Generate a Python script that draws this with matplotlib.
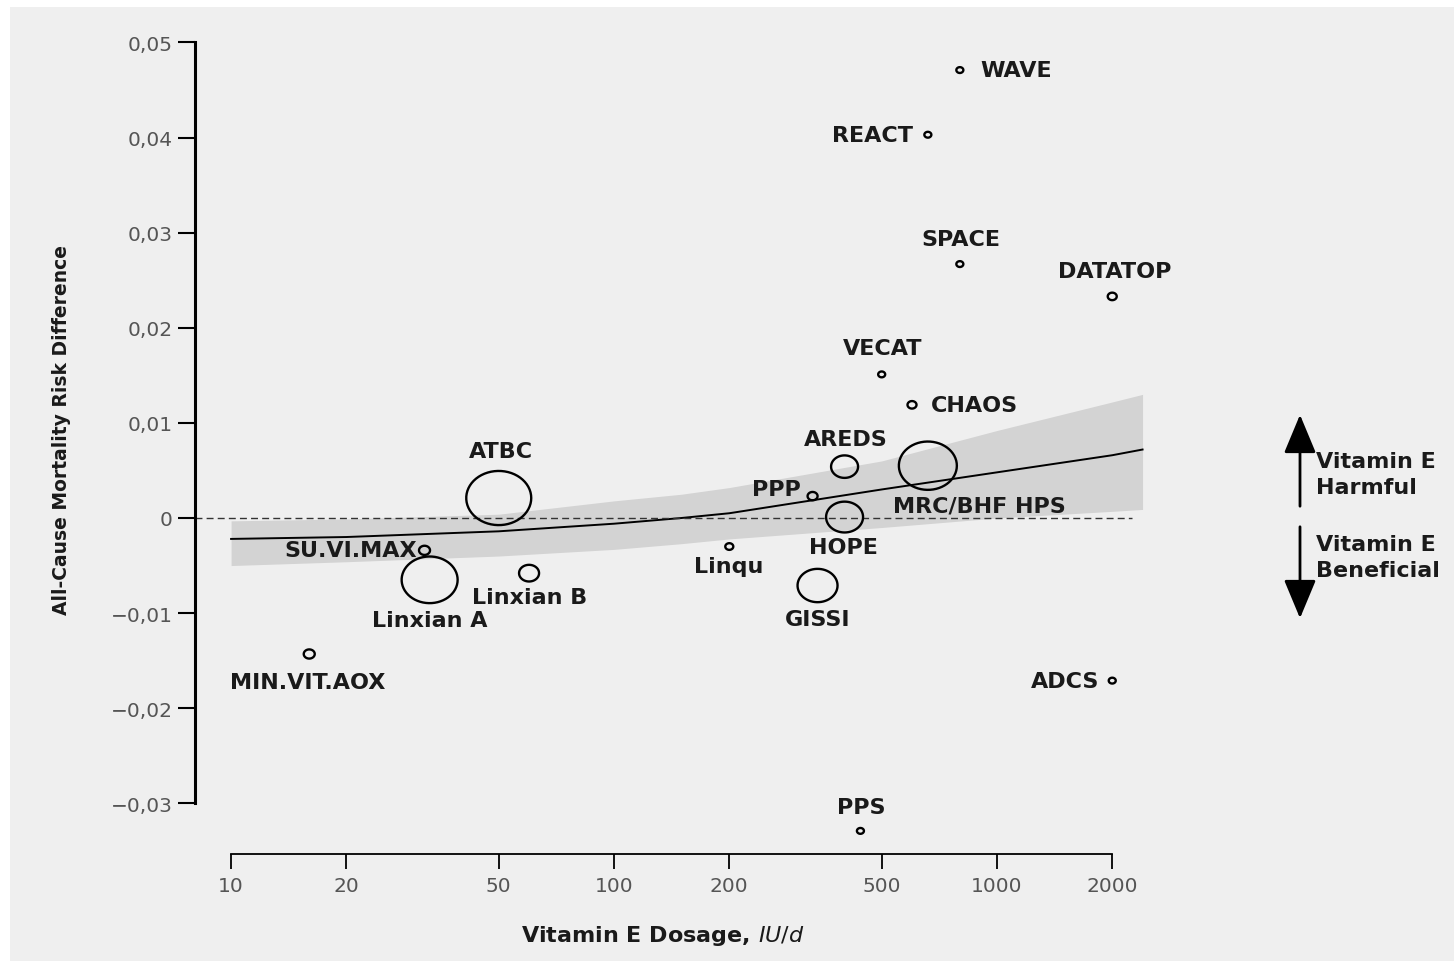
import matplotlib
matplotlib.use("Agg")
import matplotlib.pyplot as plt
from matplotlib.patches import Rectangle, FancyArrowPatch
from matplotlib.path import Path
import numpy as np

plt.rcParams['font.family'] = ['DejaVu Sans']

# trials: dose (IU/d), risk difference, relative weight
trials = ["WAVE", "REACT", "SPACE", "DATATOP", "VECAT", "CHAOS", "AREDS",
          "MRC/BHF HPS", "PPP", "HOPE", "Linqu", "GISSI", "ATBC", "SU.VI.MAX",
          "Linxian A", "Linxian B", "MIN.VIT.AOX", "ADCS", "PPS"]
dose = [800, 660, 800, 2000, 500, 600, 400, 660, 330, 400, 200, 340, 50, 32,
        33, 60, 16, 2000, 440]
risk = [0.0471, 0.0403, 0.0267, 0.0233, 0.0151, 0.0119, 0.0054, 0.0055,
        0.0023, 0.0001, -0.0030, -0.0071, 0.0021, -0.0034, -0.0065, -0.0058,
        -0.0143, -0.0171, -0.0329]
weight = [7, 7, 7, 9, 7, 9, 27, 58, 10, 37, 8, 40, 65, 11, 56, 20, 11, 7, 7]

# fitted dose-response curve and its band
fit_dose = [10, 20, 50, 100, 150, 200, 500, 1000, 2000, 2400]
fit_mid = [-0.0022, -0.0020, -0.0014, -0.0006, 0.0000, 0.0005, 0.0030,
           0.0048, 0.0066, 0.0072]
fit_hi = [-0.0003, -0.0001, 0.0004, 0.0018, 0.0025, 0.0032, 0.0060, 0.0092,
          0.0122, 0.0130]
fit_lo = [-0.0050, -0.0046, -0.0040, -0.0033, -0.0027, -0.0022, -0.0010,
          0.0000, 0.0007, 0.0009]

xticks = [10, 20, 50, 100, 200, 500, 1000, 2000]
yticks = [-0.03, -0.02, -0.01, 0, 0.01, 0.02, 0.03, 0.04, 0.05]
ytick_labels = ["\u22120,03", "\u22120,02", "\u22120,01", "0", "0,01", "0,02",
                "0,03", "0,04", "0,05"]

# label placement, offset in pixels from the marker
label_pos = {
    "WAVE": (20, 0, "left", "center"),
    "REACT": (-15, 0, "right", "center"),
    "SPACE": (1, 25, "center", "center"),
    "DATATOP": (2, 25, "center", "center"),
    "VECAT": (1, 26, "center", "center"),
    "CHAOS": (19, 0, "left", "center"),
    "AREDS": (1, 28, "center", "center"),
    "MRC/BHF HPS": (52, -40, "center", "center"),
    "PPP": (-12, 7, "right", "center"),
    "HOPE": (-1, -30, "center", "center"),
    "Linqu": (-1, -19, "center", "center"),
    "GISSI": (0, -33, "center", "center"),
    "ATBC": (2, 47, "center", "center"),
    "SU.VI.MAX": (-8, 0, "right", "center"),
    "Linxian A": (0, -40, "center", "center"),
    "Linxian B": (1, -24, "center", "center"),
    "MIN.VIT.AOX": (-2, -28, "center", "center"),
    "ADCS": (-13, 0, "right", "center"),
    "PPS": (1, 24, "center", "center"),
}

W, H = 1454, 962
fig = plt.figure(figsize=(W / 100, H / 100), dpi=100)
fig.patches.append(Rectangle((10 / W, 0), 1, 1 - 8 / H, transform=fig.transFigure,
                             facecolor="#efefef", edgecolor="none", zorder=-10))

ax = fig.add_axes([195 / W, 1 - 855 / H, (1180 - 195) / W, (855 - 14) / H])
ax.patch.set_visible(False)
ax.set_xscale("log")
ax.set_xlim(8.05, 3006)
ax.set_ylim(-0.03533, 0.0531)

ax.fill_between(fit_dose, fit_lo, fit_hi, color="#d3d3d3", lw=0, zorder=1)
ax.plot(fit_dose, fit_mid, color="black", lw=1.4, zorder=2)
ax.hlines(0, 8.05, 2250, colors="#333333", linestyles=(0, (5, 3)), lw=1, zorder=2)

# slightly wide ellipse marker
t = np.linspace(0, 2 * np.pi, 60)
ellipse = Path(np.column_stack([1.2 * np.cos(t), np.sin(t)]), closed=True)
sizes = [(0.72 * w) ** 2 for w in weight]
ax.scatter(dose, risk, s=sizes, marker=ellipse, facecolors="none",
           edgecolors="black", linewidths=1.7, zorder=3)

for name, x, y in zip(trials, dose, risk):
    dx, dy, ha, va = label_pos[name]
    ax.annotate(name, (x, y), xytext=(dx, dy), textcoords="offset pixels",
                ha=ha, va=va, fontsize=16, fontweight="bold", color="#1a1a1a",
                zorder=4)

for s in ["top", "right"]:
    ax.spines[s].set_visible(False)
ax.spines["left"].set_bounds(-0.03, 0.05)
ax.spines["left"].set_linewidth(2.2)
ax.spines["bottom"].set_bounds(10, 2000)
ax.spines["bottom"].set_linewidth(1.3)

ax.set_xticks(xticks)
ax.set_xticklabels([str(t) for t in xticks])
ax.xaxis.set_minor_locator(matplotlib.ticker.NullLocator())
ax.set_yticks(yticks)
ax.set_yticklabels(ytick_labels)
ax.tick_params(axis="y", length=12, width=1.5, labelsize=14.5, colors="black",
               labelcolor="#555555", pad=4)
ax.tick_params(axis="x", length=11, width=1.3, labelsize=14.5, colors="black",
               labelcolor="#555555", pad=5)

fig.text(62 / W, 1 - 430 / H, "All-Cause Mortality Risk Difference", rotation=90,
         ha="center", va="center", fontsize=13.5, fontweight="bold", color="#1a1a1a")
fig.text(663 / W, 1 - 936 / H, "Vitamin E Dosage, $\\it{IU/d}$", ha="center",
         va="center", fontsize=16, fontweight="bold", color="#1a1a1a")

# direction arrows on the right
arr = dict(arrowstyle="-|>,head_length=1.2,head_width=0.5", color="black",
           lw=2, mutation_scale=20)
fig.add_artist(FancyArrowPatch((1300, H - 510), (1300, H - 413),
                               transform=None, **arr))
fig.add_artist(FancyArrowPatch((1300, H - 525), (1300, H - 622),
                               transform=None, **arr))
fig.text(1316 / W, 1 - 475 / H, "Vitamin E\nHarmful", ha="left", va="center",
         fontsize=16, fontweight="bold", linespacing=1.4, color="#1a1a1a")
fig.text(1316 / W, 1 - 558 / H, "Vitamin E\nBeneficial", ha="left", va="center",
         fontsize=16, fontweight="bold", linespacing=1.4, color="#1a1a1a")

fig.savefig("out.png", dpi=100)
